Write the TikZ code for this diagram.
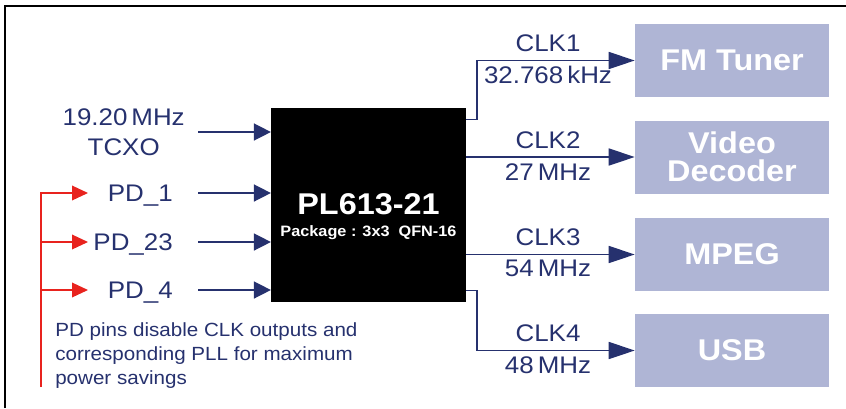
\documentclass[tikz,border=0pt]{standalone}
\usepackage{fontspec}
\setmainfont{Liberation Sans}[FakeStretch=1.08]
\usetikzlibrary{positioning,arrows.meta}
\definecolor{navy}{HTML}{26316E}
\definecolor{pdred}{HTML}{E8231E}
\definecolor{devfill}{HTML}{AFB5D5}

\begin{document}
\begin{tikzpicture}[x=0.75pt,y=-0.75pt,
  chip/.style={rectangle, fill=black, minimum width=146pt, minimum height=145.5pt},
  chiptext/.style={text=white, inner sep=0pt, text depth=0pt, font=\bfseries},
  dev/.style={rectangle, fill=devfill, minimum width=145.5pt, minimum height=54.75pt,
    text=white, align=center, font=\fontsize{22.5}{21}\selectfont\bfseries},
  pin/.style={text=navy, font=\fontsize{18}{22.5}\selectfont, inner sep=0pt, align=center},
  lbl/.style={pin, text height=13pt, text depth=0pt},
  note/.style={text=navy, font=\fontsize{14.3}{18}\selectfont, inner sep=0pt, align=left},
  insig/.style={-{Triangle[length=12.75pt,width=12.75pt]}, line width=1.1pt, color=navy},
  outsig/.style={-{Triangle[length=19.5pt,width=12.75pt]}, line width=1.1pt, color=navy},
  redarr/.style={-{Triangle[length=12pt,width=11pt]}, line width=1pt, color=pdred},
  frame/.style={line width=1.1pt, color=black}
]
\useasboundingbox (0,0) rectangle (846,408);
\draw[frame] (5,408) -- (5,6) -- (846,6);
% chip and inputs
\node[chip] (chip) at (368.5,205) {};
\node[chiptext,text height=16.5pt,font=\fontsize{22.5}{26}\selectfont\bfseries]
  (chipname) at ([shift={(0,-2)}]chip.center) {PL613-21};
\node[chiptext,text height=8.2pt,font=\fontsize{11.3}{13}\selectfont\bfseries]
  (chippkg) at ([shift={(0,26)}]chip.center) {Package : 3x3~~QFN-16};
\node[pin,anchor=east] (tcxo) at (185,132) {19.20\,MHz\\TCXO};
\node[lbl,anchor=east] (pd1) at (173,193) {PD\_1};
\node[lbl,anchor=east] (pd23) at (173,242) {PD\_23};
\node[lbl,anchor=east] (pd4) at (173,290) {PD\_4};
\draw[insig,shorten <=9.75pt] (tcxo.east) -- (chip.west |- tcxo.east);
\draw[insig,shorten <=18.75pt] (pd1.east) -- (chip.west |- pd1.east);
\draw[insig,shorten <=18.75pt] (pd23.east) -- (chip.west |- pd23.east);
\draw[insig,shorten <=18.75pt] (pd4.east) -- (chip.west |- pd4.east);
% power-down control
\coordinate (bus) at (41,193);
\coordinate (busend) at (41,387);
\draw[redarr] (busend) -- (bus) -- ++(47,0);
\draw[redarr] (bus |- pd23.east) -- ++(47,0);
\draw[redarr] (bus |- pd4.east) -- ++(47,0);
\node[note,anchor=north west] (note) at (55,322) {PD pins disable CLK outputs and\\
  corresponding PLL for maximum\\power savings};
% clock outputs
\node[dev] (fm) at (732,60.5) {FM Tuner};
\node[dev] (vdec) at (732,157) {Video\\Decoder};
\node[dev] (mpeg) at (732,254.5) {MPEG};
\node[dev] (usb) at (732,350.5) {USB};
\draw[outsig] ([shift={(0,12)}]chip.north east) -- ++(11,0) |- (fm.west);
\draw[outsig] (chip.east |- vdec.west) -- (vdec.west);
\draw[outsig] (chip.east |- mpeg.west) -- (mpeg.west);
\draw[outsig] ([shift={(0,-12)}]chip.south east) -- ++(11,0) |- (usb.west);
\node[lbl] (clk1) at (548,43) {CLK1};
\node[lbl] (f1) at (548,75) {32.768\,kHz};
\node[lbl] (clk2) at (548,140) {CLK2};
\node[lbl] (f2) at (548,172) {27\,MHz};
\node[lbl] (clk3) at (548,237) {CLK3};
\node[lbl] (f3) at (548,268) {54\,MHz};
\node[lbl] (clk4) at (548,333) {CLK4};
\node[lbl] (f4) at (548,365) {48\,MHz};
\end{tikzpicture}
\end{document}
